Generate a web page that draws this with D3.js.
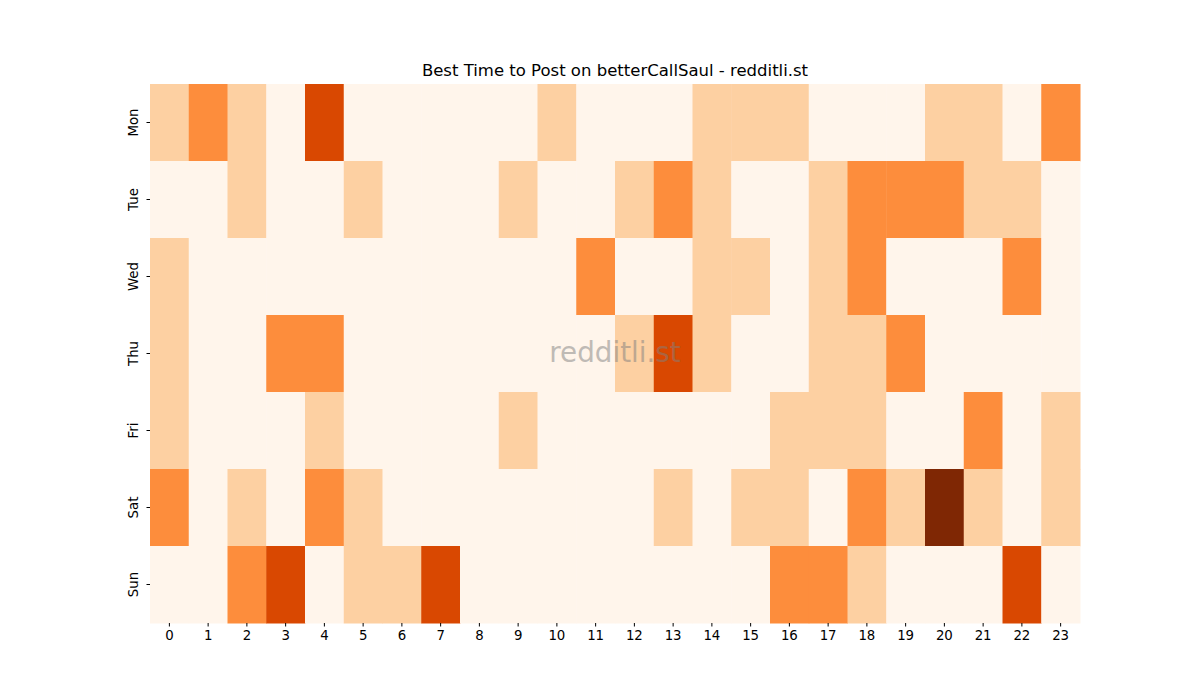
<!DOCTYPE html>
<html>
<head>
<meta charset="utf-8">
<script src="https://cdn.jsdelivr.net/npm/d3@7"></script>
<style>
  body { margin: 0; background: #fff; }
  text { font-family: 'DejaVu Sans', sans-serif; }
</style>
</head>
<body>
<div id="wrapper"></div>
<script>
const days = ['Mon', 'Tue', 'Wed', 'Thu', 'Fri', 'Sat', 'Sun']
const hours = d3.range(24)

// activity level per hour, one array per day
const mon = [1, 2, 1, 0, 3, 0, 0, 0, 0, 0, 1, 0, 0, 0, 1, 1, 1, 0, 0, 0, 1, 1, 0, 2]
const tue = [0, 0, 1, 0, 0, 1, 0, 0, 0, 1, 0, 0, 1, 2, 1, 0, 0, 1, 2, 2, 2, 1, 1, 0]
const wed = [1, 0, 0, 0, 0, 0, 0, 0, 0, 0, 0, 2, 0, 0, 1, 1, 0, 1, 2, 0, 0, 0, 2, 0]
const thu = [1, 0, 0, 2, 2, 0, 0, 0, 0, 0, 0, 0, 1, 3, 1, 0, 0, 1, 1, 2, 0, 0, 0, 0]
const fri = [1, 0, 0, 0, 1, 0, 0, 0, 0, 1, 0, 0, 0, 0, 0, 0, 1, 1, 1, 0, 0, 2, 0, 1]
const sat = [2, 0, 1, 0, 2, 1, 0, 0, 0, 0, 0, 0, 0, 1, 0, 1, 1, 0, 2, 1, 4, 1, 0, 1]
const sun = [0, 0, 2, 3, 0, 1, 1, 3, 0, 0, 0, 0, 0, 0, 0, 0, 2, 2, 1, 0, 0, 0, 3, 0]
const rows = [mon, tue, wed, thu, fri, sat, sun]

const dimensions = {
  width: 1200,
  height: 700,
  margin: { top: 84, right: 120, bottom: 77, left: 150 },
}
dimensions.boundedWidth =
  dimensions.width - dimensions.margin.left - dimensions.margin.right
dimensions.boundedHeight =
  dimensions.height - dimensions.margin.top - dimensions.margin.bottom

const cells = []
rows.forEach((row, i) => {
  row.forEach((v, h) => cells.push({ day: days[i], hour: h, value: v }))
})

const svg = d3
  .select('#wrapper')
  .append('svg')
  .attr('width', dimensions.width)
  .attr('height', dimensions.height)

const bounds = svg
  .append('g')
  .attr('transform', `translate(${dimensions.margin.left},${dimensions.margin.top})`)

const xScale = d3
  .scaleBand()
  .domain(hours)
  .range([0, dimensions.boundedWidth])

const yScale = d3
  .scaleBand()
  .domain(days)
  .range([0, dimensions.boundedHeight])

// matplotlib "Oranges" sampled at the levels used
const colorScale = d3
  .scaleOrdinal()
  .domain([0, 1, 2, 3, 4])
  .range(['#fff5eb', '#fdd0a2', '#fd8d3c', '#d94801', '#7f2704'])

bounds
  .append('g')
  .selectAll('rect')
  .data(cells)
  .join('rect')
  .attr('x', (d) => xScale(d.hour))
  .attr('y', (d) => yScale(d.day))
  .attr('width', xScale.bandwidth() + 0.5)
  .attr('height', yScale.bandwidth() + 0.5)
  .attr('fill', (d) => colorScale(d.value))

// axes
const xAxis = bounds
  .append('g')
  .attr('transform', `translate(0,${dimensions.boundedHeight})`)
  .call(d3.axisBottom(xScale).tickSize(3.5).tickPadding(4))
xAxis.select('.domain').remove()
xAxis.selectAll('text').attr('font-size', '13.33px').attr('fill', '#000')
  .style('font-family', "'DejaVu Sans', sans-serif")

const yAxis = bounds
  .append('g')
  .call(d3.axisLeft(yScale).tickSize(3.5).tickPadding(4))
yAxis.select('.domain').remove()
yAxis
  .selectAll('text')
  .attr('font-size', '13.33px')
  .attr('fill', '#000')
  .style('font-family', "'DejaVu Sans', sans-serif")
  .attr('text-anchor', 'middle')
  .attr('dy', 0)
  .attr('x', 0)
  .attr('transform', 'translate(-12.5,0) rotate(-90)')
  .attr('dominant-baseline', 'auto')

// title
svg
  .append('text')
  .attr('x', dimensions.margin.left + dimensions.boundedWidth / 2)
  .attr('y', dimensions.margin.top - 8)
  .attr('text-anchor', 'middle')
  .attr('font-size', '16.5px')
  .text('Best Time to Post on betterCallSaul - redditli.st')

// watermark
svg
  .append('text')
  .attr('x', dimensions.margin.left + dimensions.boundedWidth / 2)
  .attr('y', dimensions.margin.top + dimensions.boundedHeight / 2)
  .attr('text-anchor', 'middle')
  .attr('dominant-baseline', 'middle')
  .attr('font-size', '27.8px')
  .attr('fill', 'gray')
  .attr('opacity', 0.5)
  .text('redditli.st')
</script>
</body>
</html>
